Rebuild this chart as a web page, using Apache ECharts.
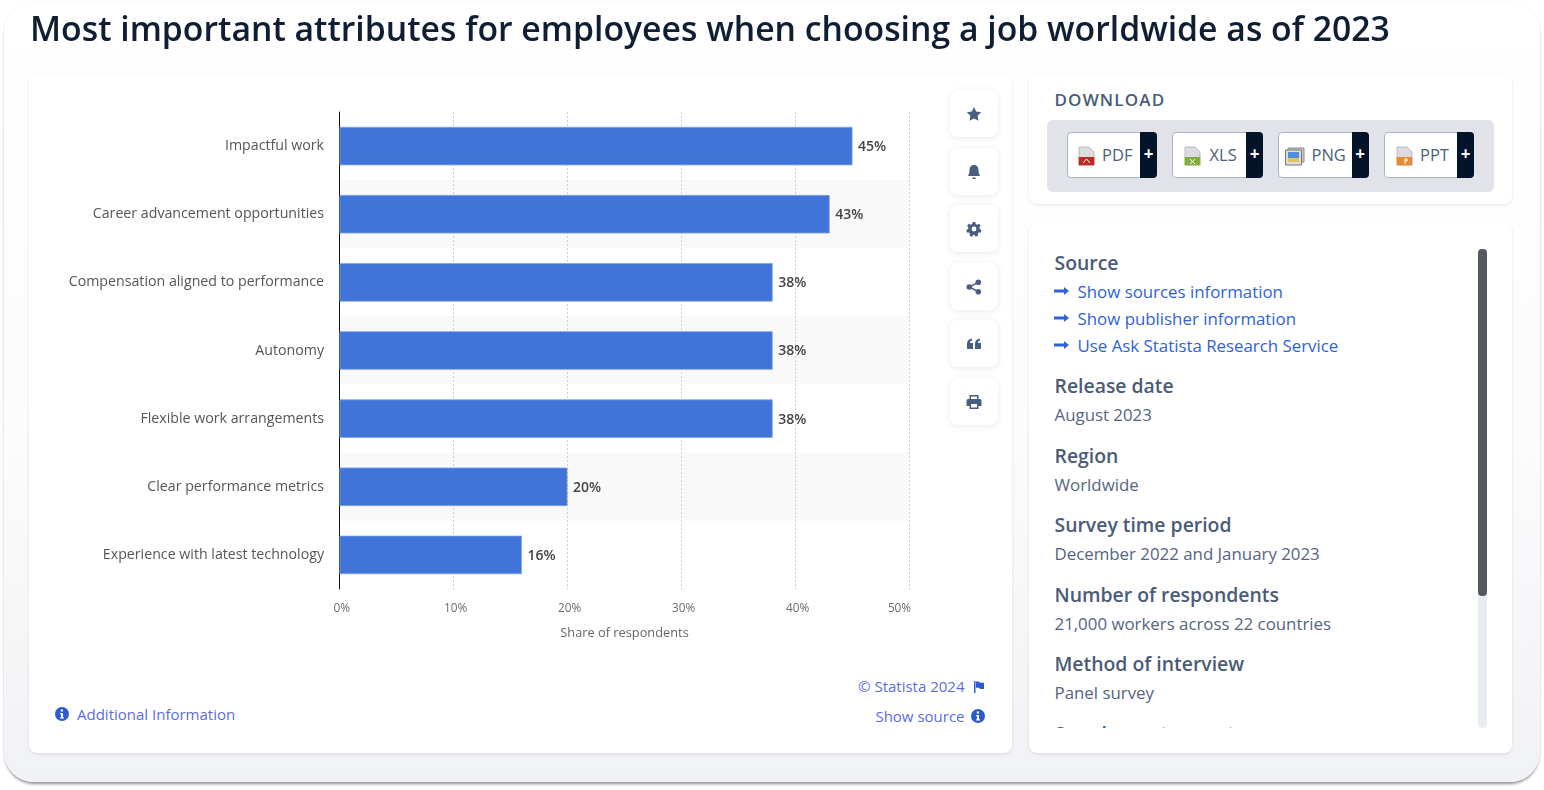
<!DOCTYPE html>
<html><head><meta charset="utf-8">
<script src="https://cdn.jsdelivr.net/npm/echarts@6/dist/echarts.min.js"></script>
<style>
html,body{margin:0;padding:0;width:1544px;height:790px;overflow:hidden;background:#fff;font-family:"Open Sans","Noto Sans",sans-serif;}
.abs{position:absolute;white-space:nowrap;}
#card{position:absolute;left:4px;top:2px;width:1536px;height:780px;border-radius:30px;background:linear-gradient(180deg,#fff 0%,#fcfcfd 55%,#f1f2f5 100%);box-shadow:0 3px 3px -1px rgba(40,40,50,.5),0 0 2px rgba(40,40,50,.08);}
.panel{position:absolute;background:#fff;border-radius:8px;box-shadow:0 1px 3px rgba(30,40,60,.12);}
.tool{position:absolute;left:950px;width:48px;height:47px;background:#fff;border-radius:8px;box-shadow:0 1px 6px rgba(30,40,60,.10);display:flex;align-items:center;justify-content:center;}
.btn{position:absolute;top:132px;height:46px;background:#fff;border:1px solid #a9b4c6;border-radius:4px;box-sizing:border-box;color:#4e5f7a;font-size:16.5px;line-height:44px;}
.btn .pl{position:absolute;right:-1px;top:-1px;bottom:-1px;width:17px;background:#03142a;border-radius:0 4px 4px 0;color:#fff;font-weight:700;font-size:17px;line-height:44px;text-align:center;}
.btn span.t{position:absolute;top:0;}
.btn svg{position:absolute;top:13px;}
.h{position:absolute;font-size:19.4px;font-weight:600;color:#4a5b78;line-height:26px;white-space:nowrap;}
.v{position:absolute;font-size:16.85px;color:#55657f;line-height:24px;white-space:nowrap;}
.l{position:absolute;font-size:16.85px;color:#2f62d8;line-height:24px;white-space:nowrap;}
.arr{position:absolute;}
#chart{position:absolute;left:0;top:0;width:1544px;height:790px;}
</style></head><body>
<div id="card"></div>
<div class="panel" style="left:29px;top:74px;width:983px;height:679px"></div>
<div class="panel" style="left:1029px;top:74px;width:483px;height:130px"></div>
<div class="panel" style="left:1029px;top:223px;width:483px;height:530px"></div>

<div class="tool" style="top:90px"><svg width="16" height="16" viewBox="0 0 16 16"><path fill="#4a5f80" d="M8 1l2.2 4.6 5 .7-3.6 3.5.9 5L8 12.4l-4.5 2.4.9-5L.8 6.3l5-.7z"/></svg></div>
<div class="tool" style="top:148px"><svg width="16" height="16" viewBox="0 0 16 16"><path fill="#4a5f80" d="M8 1c3 0 4.500 2.300 4.500 5 0 3 .8 4.500 1.500 6H2c.7-1.500 1.500-3 1.500-6C3.500 3.300 5 1 8 1zM6.500 13.500h3V15h-3z"/></svg></div>
<div class="tool" style="top:205px"><svg width="16" height="16" viewBox="0 0 16 16"><path fill="#4a5f80" fill-rule="evenodd" d="M6.700 1h2.600l.4 2 1.500.7 1.800-1 1.700 2-1.300 1.600.3 1.700 1.800.9-.6 2.500-2 .1-1.100 1.300.3 2-2.400.9-1.100-1.700H7.200l-1.100 1.700-2.400-.9.300-2-1.100-1.300-2-.1-.6-2.500 1.800-.9.300-1.700L1.100 4.700l1.700-2 1.800 1 1.500-.7zM8 5.600a2.400 2.400 0 1 0 0 4.800 2.400 2.400 0 0 0 0-4.800z"/></svg></div>
<div class="tool" style="top:263px"><svg width="16" height="16" viewBox="0 0 16 16"><g fill="#4a5f80"><circle cx="3.300" cy="8" r="2.800"/><circle cx="12.300" cy="3.300" r="2.800"/><circle cx="12.300" cy="12.700" r="2.800"/></g><path stroke="#4a5f80" stroke-width="1.500" d="M3.300 8l9-4.700M3.300 8l9 4.700"/></svg></div>
<div class="tool" style="top:320px"><svg width="14" height="12" viewBox="0 0 14 12"><path fill="#4a5f80" d="M0 6c0-3 1.500-5 5-5.500v2C3.800 2.800 3 3.500 3 5h3v6H0zM8 6c0-3 1.500-5 5-5.500v2C11.800 2.800 11 3.500 11 5h3v6H8z"/></svg></div>
<div class="tool" style="top:378px"><svg width="16" height="16" viewBox="0 0 16 16"><path fill="#4a5f80" fill-rule="evenodd" d="M3.500 1h9v4h1.500A1.500 1.500 0 0 1 15.500 6.500V12h-3v3h-9v-3H.5V6.500A1.500 1.500 0 0 1 2 5h1.500zM5 2.500V5h6V2.500zM5 10v3.500h6V10z"/></svg></div>

<div class="abs" style="left:1054.5px;top:90px;font-size:17px;letter-spacing:1.15px;font-weight:600;color:#4a5b78;line-height:20px">DOWNLOAD</div>
<div style="position:absolute;left:1047px;top:120px;width:447px;height:72px;background:#e1e3e8;border-radius:6px"></div>
<div class="btn" style="left:1067px;width:90px"><svg width="17" height="20" viewBox="0 0 17 20" style="left:10px"><path fill="#dcdce0" stroke="#a8a8ac" stroke-width=".7" d="M1 1h10l5 5v13H1z"/><path fill="#bd2a24" d="M.7 11h15.6v8.3H.7z"/><path stroke="#fff" fill="none" d="M5 17l3.500-4L12 17"/></svg><span class="t" style="left:34px">PDF</span><div class="pl">+</div></div>
<div class="btn" style="left:1172px;width:91px"><svg width="17" height="20" viewBox="0 0 17 20" style="left:11px"><path fill="#dcdce0" stroke="#a8a8ac" stroke-width=".7" d="M1 1h10l5 5v13H1z"/><path fill="#7fae3f" d="M.7 11h15.6v8.3H.7z"/><path stroke="#fff" fill="none" d="M6 13l5 5M11 13l-5 5"/></svg><span class="t" style="left:36.5px">XLS</span><div class="pl">+</div></div>
<div class="btn" style="left:1278px;width:90.5px"><svg width="20" height="20" viewBox="0 0 20 20" style="left:6px"><path fill="#c8c8cb" stroke="#8a8a8d" d="M3 2h16v14H3z"/><path fill="#dcdcde" stroke="#77777a" d="M.5 4h16v15H.5z"/><path fill="#4b8fd6" d="M3 6h11v6H3z"/><path fill="#e6c25c" d="M3 12h11v4H3z"/></svg><span class="t" style="left:32.5px">PNG</span><div class="pl">+</div></div>
<div class="btn" style="left:1384px;width:90px"><svg width="17" height="20" viewBox="0 0 17 20" style="left:10.5px"><path fill="#dcdce0" stroke="#a8a8ac" stroke-width=".7" d="M1 1h10l5 5v13H1z"/><path fill="#e58a36" d="M.7 11h15.6v8.3H.7z"/><path stroke="#fff" fill="none" d="M9 18v-5h2v2H9"/></svg><span class="t" style="left:35px">PPT</span><div class="pl">+</div></div>

<div style="position:absolute;left:1029px;top:240px;width:445px;height:488px;overflow:hidden" id="meta">
<div class="h" style="left:25.5px;top:10px">Source</div>
<div class="l" style="left:48.5px;top:40px">Show sources information</div>
<div class="l" style="left:48.5px;top:67px">Show publisher information</div>
<div class="l" style="left:48.5px;top:94px">Use Ask Statista Research Service</div>
<svg class="arr" style="left:25px;top:46px" width="15" height="10" viewBox="0 0 15 10"><path fill="#2f62d8" d="M0 3.500h10V1l5 4-5 4V6.500H0z"/></svg>
<svg class="arr" style="left:25px;top:73px" width="15" height="10" viewBox="0 0 15 10"><path fill="#2f62d8" d="M0 3.500h10V1l5 4-5 4V6.500H0z"/></svg>
<svg class="arr" style="left:25px;top:100px" width="15" height="10" viewBox="0 0 15 10"><path fill="#2f62d8" d="M0 3.500h10V1l5 4-5 4V6.500H0z"/></svg>
<div class="h" style="left:25.5px;top:133px">Release date</div>
<div class="v" style="left:25.5px;top:163px">August 2023</div>
<div class="h" style="left:25.5px;top:203px">Region</div>
<div class="v" style="left:25.5px;top:233px">Worldwide</div>
<div class="h" style="left:25.5px;top:272px">Survey time period</div>
<div class="v" style="left:25.5px;top:302px">December 2022 and January 2023</div>
<div class="h" style="left:25.5px;top:342px">Number of respondents</div>
<div class="v" style="left:25.5px;top:372px">21,000 workers across 22 countries</div>
<div class="h" style="left:25.5px;top:411px">Method of interview</div>
<div class="v" style="left:25.5px;top:441px">Panel survey</div>
<div class="h" style="left:25.5px;top:481px">Supplementary notes</div>
</div>
<div style="position:absolute;left:1478px;top:249px;width:9px;height:479px;background:#e9ecf0;border-radius:4px"></div>
<div style="position:absolute;left:1478px;top:249px;width:9px;height:347px;background:#55595f;border-radius:4px"></div>

<svg style="position:absolute;left:55px;top:707px" width="14" height="14" viewBox="0 0 14 14"><circle cx="7" cy="7" r="7" fill="#2a5cd0"/><path fill="#fff" d="M5.800 2.500h2.200v2H5.800zM5 6h3v4.200h1v1.300H5v-1.300h1V7.300H5z"/></svg>
<div class="abs" style="left:77px;top:704px;font-size:15px;line-height:21px;color:#5a6ce0">Additional Information</div>
<div class="abs" style="right:579.5px;top:676px;font-size:15px;line-height:21px;color:#5a6ce0">© Statista 2024</div>
<svg style="position:absolute;left:974px;top:681px" width="10" height="12" viewBox="0 0 10 12"><path fill="#2a5cd0" d="M0 0h1.500v12H0zM2 .5h3l1 1.200h4V8H6L5 6.800H2z"/></svg>
<div class="abs" style="right:579.5px;top:706px;font-size:15px;line-height:21px;color:#5a6ce0">Show source</div>
<svg style="position:absolute;left:971px;top:709px" width="14" height="14" viewBox="0 0 14 14"><circle cx="7" cy="7" r="7" fill="#2a5cd0"/><path fill="#fff" d="M5.800 2.500h2.200v2H5.800zM5 6h3v4.200h1v1.300H5v-1.300h1V7.300H5z"/></svg>

<div id="chart"></div>
<script>
const titleText = "Most important attributes for employees when choosing a job worldwide as of 2023";
const categories = ["Impactful work","Career advancement opportunities","Compensation aligned to performance","Autonomy","Flexible work arrangements","Clear performance metrics","Experience with latest technology"];
const shares = [45,43,38,38,38,20,16];
const xTicksMax = 50;
const xAxisTitle = "Share of respondents";
const barColor = "#4074d9";
const FONT = '"Open Sans","Noto Sans",sans-serif';
const tickStyle = {fontFamily:FONT,fontSize:11.8,color:'#6a6a6a'};
const chart = echarts.init(document.getElementById('chart'), null, {renderer:'canvas', width:1544, height:790});
chart.setOption({
  animation:false,
  backgroundColor:'transparent',
  title:{text:titleText,left:30,top:9,padding:0,textStyle:{fontFamily:FONT,fontSize:33.75,fontWeight:600,color:'#0f1e33',lineHeight:44}},
  grid:{left:339.5,top:112,width:570,height:477,containLabel:false},
  xAxis:{type:'value',min:0,max:xTicksMax,interval:10,
    axisLine:{show:false},axisTick:{show:false},
    axisLabel:Object.assign({},tickStyle,{
      formatter:v=>v===xTicksMax?'{m|'+v+'%}':v+'%',
      rich:{m:Object.assign({},tickStyle,{padding:[0,24.4,0,0]})},
      padding:[0,0,0,4.4],margin:14,alignMinLabel:'center',alignMaxLabel:'center'}),
    splitLine:{show:true,z:2,lineStyle:{color:'#cfcfcf',type:[2,2],width:1}},
    name:xAxisTitle,nameLocation:'middle',nameGap:38,
    nameTextStyle:{fontFamily:FONT,fontSize:12.8,color:'#666'}},
  yAxis:{type:'category',inverse:true,data:categories,
    axisLine:{show:true,onZero:false,lineStyle:{color:'#111',width:1}},axisTick:{show:false},
    axisLabel:{fontFamily:FONT,fontSize:14.2,color:'#555',margin:15.5,padding:[2,0,0,0]},
    splitArea:{show:true,areaStyle:{color:['#ffffff','#f9f9f9']}}},
  series:[{type:'bar',data:shares,barWidth:38.5,z:3,
    itemStyle:{color:barColor,borderColor:'#7fa3e8',borderWidth:0.8},
    label:{show:true,position:'right',distance:5.5,offset:[0,1],formatter:'{c}%',fontFamily:FONT,fontSize:14,fontWeight:600,color:'#444'}}]
});
</script>
</body></html>
